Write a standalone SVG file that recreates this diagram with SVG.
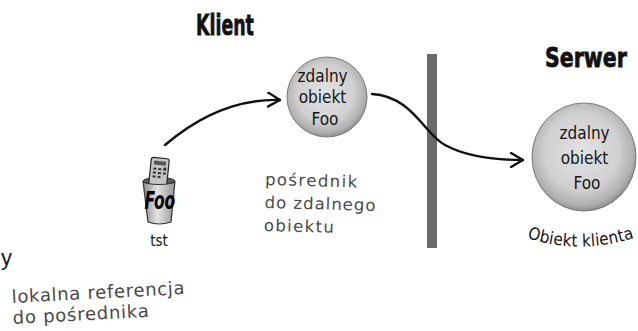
<svg xmlns="http://www.w3.org/2000/svg" width="638" height="331" viewBox="0 0 638 331">
  <defs>
    <radialGradient id="sphereFill" cx="48%" cy="45%" r="55%">
      <stop offset="0" stop-color="#e2e2e2"/>
      <stop offset="0.65" stop-color="#d0d0d0"/>
      <stop offset="0.9" stop-color="#b0b0b0"/>
      <stop offset="1" stop-color="#8e8e8e"/>
    </radialGradient>
    <linearGradient id="cupFill" x1="0" y1="0" x2="1" y2="0">
      <stop offset="0" stop-color="#8c8c8c"/>
      <stop offset="0.45" stop-color="#e4e4e4"/>
      <stop offset="1" stop-color="#949494"/>
    </linearGradient>
    <marker id="chevron" viewBox="0 0 14 16" refX="13" refY="8" markerWidth="14" markerHeight="16" markerUnits="userSpaceOnUse" orient="auto">
      <path d="M1,1 L13,8 L1,15" fill="none" stroke="#111" stroke-width="2.4" stroke-linecap="round" stroke-linejoin="round"/>
    </marker>
    <path id="captionCurve" d="M527,238 Q582,256 640,236"/>
  </defs>
  <style>
    .title { font-family: "DejaVu Sans", "Liberation Sans", sans-serif; font-weight: bold; fill: #111; stroke: #111; stroke-width: 0.8; }
    .hand { font-family: "DejaVu Sans Condensed", "DejaVu Sans", sans-serif; fill: #151515; }
    .note { font-family: "DejaVu Sans", "Liberation Sans", sans-serif; fill: #4a4a4a; }
    .sphere { fill: url(#sphereFill); stroke: #7a7a7a; stroke-width: 1; }
    .link { fill: none; stroke: #111; stroke-width: 2.4; stroke-linecap: round; marker-end: url(#chevron); }
  </style>

  <!-- headings, squeezed horizontally for a poster-type look -->
  <g id="heading-klient">
    <text class="title" transform="translate(196 35) scale(0.6 1)" font-size="29">Klient</text>
  </g>
  <g id="heading-serwer">
    <text class="title" transform="translate(545 67) scale(0.76 1)" font-size="27">Serwer</text>
  </g>

  <!-- network boundary -->
  <g id="boundary">
    <rect x="427" y="54" width="10" height="194" fill="#6a6a6a"/>
  </g>

  <!-- connectors -->
  <g id="connectors">
    <path class="link" d="M165,145 Q220,98 280,100"/>
    <path class="link" d="M372,94 C412,96 425,135 445,145 C465,156 490,160 523,160"/>
  </g>

  <!-- local reference: cup holding a remote control -->
  <g id="node-tst">
    <ellipse cx="159" cy="181" rx="16" ry="3.5" fill="#5a5a5a" stroke="#333" stroke-width="1"/>
    <g transform="rotate(6 159 172)">
      <rect x="150" y="158" width="18" height="28" rx="2.5" fill="#c4c4c4" stroke="#222" stroke-width="1.2"/>
      <rect x="153" y="161" width="12" height="4" fill="#555"/>
      <g fill="#333">
        <rect x="153" y="168" width="3" height="2"/>
        <rect x="158" y="168" width="3" height="2"/>
        <rect x="163" y="167" width="3" height="3"/>
        <rect x="153" y="172" width="3" height="2"/>
        <rect x="158" y="172" width="3" height="2"/>
        <rect x="163" y="172" width="3" height="2"/>
        <rect x="153" y="176" width="3" height="2"/>
        <rect x="158" y="176" width="3" height="2"/>
      </g>
    </g>
    <path d="M143,181 A16,3.5 0 0 0 175,181 L171,222 Q159,226 148,222 Z" fill="url(#cupFill)" stroke="#333" stroke-width="1.2"/>
    <text transform="translate(144.5 209) scale(0.62 1)" font-family="DejaVu Sans, sans-serif" font-weight="bold" font-style="italic" font-size="25" fill="#000">Foo</text>
    <text class="hand" x="159" y="246" font-size="15" text-anchor="middle">tst</text>
  </g>

  <!-- client-side proxy -->
  <g id="node-proxy">
    <circle class="sphere" cx="327" cy="97" r="40"/>
    <text class="hand" font-size="17" text-anchor="middle">
      <tspan x="325" y="82">zdalny</tspan>
      <tspan x="325" y="103">obiekt</tspan>
      <tspan x="325" y="125">Foo</tspan>
    </text>
  </g>

  <!-- server-side object -->
  <g id="node-remote">
    <ellipse class="sphere" cx="584" cy="157" rx="52" ry="54"/>
    <text class="hand" font-size="17" text-anchor="middle">
      <tspan x="587" y="139">zdalny</tspan>
      <tspan x="587" y="164">obiekt</tspan>
      <tspan x="587" y="189">Foo</tspan>
    </text>
    <text class="hand" font-size="17">
      <textPath href="#captionCurve" textLength="109">Obiekt klienta</textPath>
    </text>
  </g>

  <!-- annotations -->
  <g id="notes">
    <text class="note" font-size="16.5" transform="rotate(1.5 265 185)">
      <tspan x="265" y="185" textLength="92">pośrednik</tspan>
      <tspan x="265" y="208" textLength="111">do zdalnego</tspan>
      <tspan x="265" y="231" textLength="70">obiektu</tspan>
    </text>
    <text x="1" y="265" font-family="Liberation Sans, sans-serif" font-size="22" fill="#1a1a1a">y</text>
    <text class="note" font-size="18" transform="rotate(-3 12 303)">
      <tspan x="12" y="303" textLength="173">lokalna referencja</tspan>
      <tspan x="12" y="324" textLength="136">do pośrednika</tspan>
    </text>
  </g>
</svg>
